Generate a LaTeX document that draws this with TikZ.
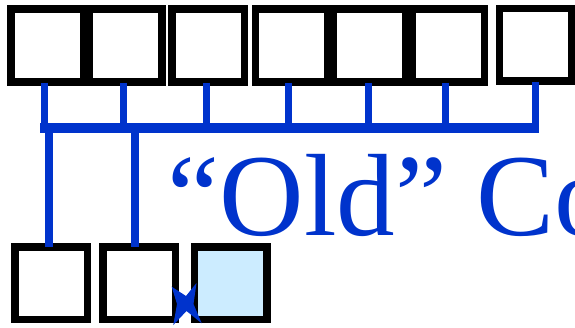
\documentclass[tikz,border=0pt]{standalone}
\usepackage{fontspec}
\setmainfont{Liberation Serif}
\definecolor{lineblue}{RGB}{0,51,204}
\definecolor{cellfill}{RGB}{204,236,255}
\begin{document}
\begin{tikzpicture}[x=1pt,y=-1pt,
  cell/.style={draw=black,line width=7.5pt,inner sep=0pt,outer sep=0pt,minimum width=72.5pt,minimum height=73.4pt},
  tick/.style={draw=lineblue,line width=7pt},
  bus/.style={draw=lineblue,line width=10.5pt},
  drop/.style={draw=lineblue,line width=8pt}]
\useasboundingbox (0,0) rectangle (575,327);
% top row
\node[cell] (b1) at (47.45,45.5) {};
\node[cell] (b2) at (125.5,45.5) {};
\node[cell] (b3) at (208.15,45.5) {};
\node[cell] (b4) at (291.75,45.5) {};
\node[cell] (b5) at (369.45,45.5) {};
\node[cell] (b6) at (448.45,45.5) {};
\node[cell,minimum width=72pt,minimum height=72.7pt] (b7) at (535.7,44.65) {};
% bus coordinates
\coordinate (t1) at (44,128);
\coordinate (t2) at (123.7,128);
\coordinate (t3) at (206.5,128);
\coordinate (t4) at (288.7,128);
\coordinate (t5) at (368.7,128);
\coordinate (t6) at (445,128);
\coordinate (t7) at (535,128);
\coordinate (busL) at (40,128);
\coordinate (busR) at (539,128);
\foreach \i in {1,...,7} {\draw[tick] (b\i.south -| t\i) ++(0,0.5) -- (t\i);}
\draw[bus] (busL) -- (busR);
% bottom row
\node[cell,minimum height=72.5pt] (a1) at (51.25,283.25) {};
\node[cell,minimum height=72.5pt] (a2) at (139.05,283.25) {};
\node[cell,minimum height=72.5pt,fill=cellfill] (a3) at (230.9,283.25) {};
\coordinate (d1) at (49,128);
\coordinate (d2) at (134.7,128);
\draw[drop] (d1) -- (a1.north -| d1);
\draw[drop] (d2) -- (a2.north -| d2);
% X mark
\fill[lineblue] (171.7,286.7) -- (186,296) -- (196.5,283) -- (193.5,304) -- (201.7,323.3) -- (186.5,311) -- (173.3,325) -- (177,304) -- cycle;
% label
\node[anchor=base west,inner sep=0pt,text=lineblue,font=\fontsize{117}{117}\selectfont] (lbl) at (167.5,235) {“Old” Co};
\end{tikzpicture}
\end{document}
